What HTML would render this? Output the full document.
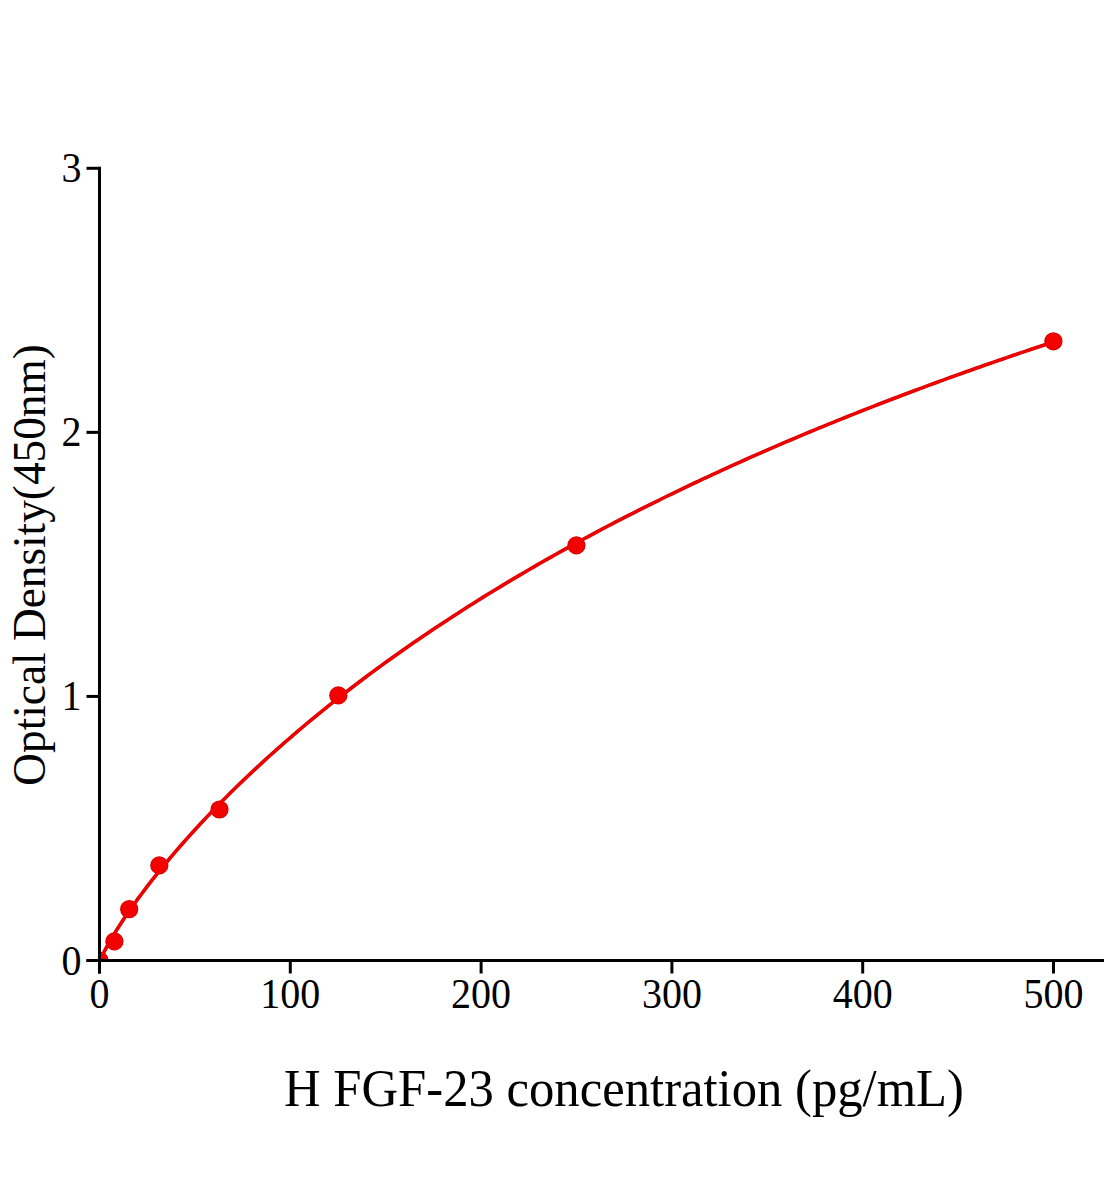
<!DOCTYPE html>
<html><head><meta charset="utf-8"><style>
html,body{margin:0;padding:0;background:#fff;}
body{width:1104px;height:1200px;overflow:hidden;}
svg{display:block;}
text{font-family:"Liberation Serif",serif;fill:#000;}
</style></head><body>
<svg width="1104" height="1200" viewBox="0 0 1104 1200">
<defs><clipPath id="c"><rect x="99.5" y="0" width="1004.5" height="960.5"/></clipPath></defs>
<g clip-path="url(#c)">
<polyline points="99.50,962.52 100.15,960.55 100.79,958.95 101.44,957.46 102.09,956.04 102.73,954.67 103.38,953.34 104.03,952.05 104.67,950.78 105.32,949.54 105.97,948.32 106.61,947.12 107.26,945.93 107.91,944.76 108.55,943.61 109.20,942.46 109.85,941.33 110.50,940.21 111.14,939.11 111.79,938.01 112.44,936.92 113.08,935.84 113.73,934.77 114.38,933.71 115.02,932.65 115.67,931.60 116.32,930.57 116.96,929.53 117.61,928.51 118.26,927.49 118.90,926.47 119.55,925.47 120.20,924.47 120.84,923.47 121.49,922.48 122.14,921.50 122.78,920.52 123.43,919.54 124.08,918.57 124.72,917.61 125.37,916.65 126.02,915.69 126.66,914.74 127.31,913.79 127.96,912.85 128.61,911.91 129.25,910.98 129.90,910.05 130.55,909.12 131.19,908.20 131.84,907.28 132.49,906.37 133.13,905.46 133.78,904.55 134.43,903.65 135.07,902.74 135.72,901.85 136.37,900.95 137.01,900.06 137.66,899.18 142.26,892.95 146.86,886.87 151.47,880.92 156.07,875.09 160.67,869.38 165.27,863.77 169.88,858.26 174.48,852.84 179.08,847.50 183.68,842.25 188.28,837.08 192.89,831.99 197.49,826.96 202.09,822.01 206.69,817.12 211.30,812.30 215.90,807.53 220.50,802.83 225.10,798.18 229.70,793.59 234.31,789.05 238.91,784.57 243.51,780.13 248.11,775.74 252.72,771.41 257.32,767.11 261.92,762.87 266.52,758.66 271.12,754.50 275.73,750.39 280.33,746.31 284.93,742.27 289.53,738.27 294.14,734.31 298.74,730.39 303.34,726.50 307.94,722.65 312.54,718.84 317.15,715.06 321.75,711.31 326.35,707.60 330.95,703.91 335.56,700.26 340.16,696.64 344.76,693.06 349.36,689.50 353.96,685.97 358.57,682.47 363.17,679.00 367.77,675.55 372.37,672.14 376.97,668.75 381.58,665.39 386.18,662.05 390.78,658.74 395.38,655.46 399.99,652.20 404.59,648.96 409.19,645.75 413.79,642.56 418.39,639.40 423.00,636.26 427.60,633.14 432.20,630.05 436.80,626.97 441.41,623.92 446.01,620.89 450.61,617.89 455.21,614.90 459.81,611.93 464.42,608.99 469.02,606.06 473.62,603.16 478.22,600.27 482.83,597.40 487.43,594.55 492.03,591.73 496.63,588.92 501.23,586.12 505.84,583.35 510.44,580.59 515.04,577.86 519.64,575.14 524.25,572.43 528.85,569.75 533.45,567.08 538.05,564.43 542.65,561.79 547.26,559.17 551.86,556.57 556.46,553.98 561.06,551.41 565.67,548.85 570.27,546.31 574.87,543.79 579.47,541.28 584.07,538.78 588.68,536.30 593.28,533.84 597.88,531.39 602.48,528.95 607.09,526.53 611.69,524.12 616.29,521.72 620.89,519.34 625.49,516.97 630.10,514.62 634.70,512.28 639.30,509.95 643.90,507.64 648.51,505.33 653.11,503.05 657.71,500.77 662.31,498.50 666.91,496.25 671.52,494.01 676.12,491.79 680.72,489.57 685.32,487.37 689.93,485.18 694.53,483.00 699.13,480.83 703.73,478.67 708.33,476.53 712.94,474.39 717.54,472.27 722.14,470.16 726.74,468.06 731.35,465.97 735.95,463.89 740.55,461.82 745.15,459.76 749.75,457.72 754.36,455.68 758.96,453.65 763.56,451.64 768.16,449.63 772.77,447.63 777.37,445.65 781.97,443.67 786.57,441.70 791.17,439.75 795.78,437.80 800.38,435.86 804.98,433.93 809.58,432.01 814.19,430.10 818.79,428.20 823.39,426.31 827.99,424.43 832.59,422.55 837.20,420.69 841.80,418.83 846.40,416.98 851.00,415.15 855.60,413.32 860.21,411.50 864.81,409.68 869.41,407.88 874.01,406.08 878.62,404.29 883.22,402.51 887.82,400.74 892.42,398.98 897.02,397.22 901.63,395.48 906.23,393.74 910.83,392.01 915.43,390.28 920.04,388.57 924.64,386.86 929.24,385.16 933.84,383.46 938.44,381.78 943.05,380.10 947.65,378.43 952.25,376.76 956.85,375.11 961.46,373.46 966.06,371.82 970.66,370.18 975.26,368.55 979.86,366.93 984.47,365.32 989.07,363.71 993.67,362.11 998.27,360.52 1002.88,358.93 1007.48,357.35 1012.08,355.78 1016.68,354.21 1021.28,352.65 1025.89,351.10 1030.49,349.55 1035.09,348.01 1039.69,346.47 1044.30,344.95 1048.90,343.42 1053.50,341.91" fill="none" stroke="#D00000" stroke-width="3.6" stroke-linejoin="round"/>
<circle cx="99.5" cy="960.5" r="9.1" fill="#D00000"/>
<circle cx="114.4" cy="941.4" r="9.1" fill="#D00000"/>
<circle cx="129.2" cy="909.2" r="9.1" fill="#D00000"/>
<circle cx="159.3" cy="865.4" r="9.1" fill="#D00000"/>
<circle cx="219.5" cy="809.5" r="9.1" fill="#D00000"/>
<circle cx="338.3" cy="695.4" r="9.1" fill="#D00000"/>
<circle cx="576.4" cy="545.4" r="9.1" fill="#D00000"/>
<circle cx="1053.4" cy="341.3" r="9.1" fill="#D00000"/>
<polyline points="99.50,962.52 100.15,960.55 100.79,958.95 101.44,957.46 102.09,956.04 102.73,954.67 103.38,953.34 104.03,952.05 104.67,950.78 105.32,949.54 105.97,948.32 106.61,947.12 107.26,945.93 107.91,944.76 108.55,943.61 109.20,942.46 109.85,941.33 110.50,940.21 111.14,939.11 111.79,938.01 112.44,936.92 113.08,935.84 113.73,934.77 114.38,933.71 115.02,932.65 115.67,931.60 116.32,930.57 116.96,929.53 117.61,928.51 118.26,927.49 118.90,926.47 119.55,925.47 120.20,924.47 120.84,923.47 121.49,922.48 122.14,921.50 122.78,920.52 123.43,919.54 124.08,918.57 124.72,917.61 125.37,916.65 126.02,915.69 126.66,914.74 127.31,913.79 127.96,912.85 128.61,911.91 129.25,910.98 129.90,910.05 130.55,909.12 131.19,908.20 131.84,907.28 132.49,906.37 133.13,905.46 133.78,904.55 134.43,903.65 135.07,902.74 135.72,901.85 136.37,900.95 137.01,900.06 137.66,899.18 142.26,892.95 146.86,886.87 151.47,880.92 156.07,875.09 160.67,869.38 165.27,863.77 169.88,858.26 174.48,852.84 179.08,847.50 183.68,842.25 188.28,837.08 192.89,831.99 197.49,826.96 202.09,822.01 206.69,817.12 211.30,812.30 215.90,807.53 220.50,802.83 225.10,798.18 229.70,793.59 234.31,789.05 238.91,784.57 243.51,780.13 248.11,775.74 252.72,771.41 257.32,767.11 261.92,762.87 266.52,758.66 271.12,754.50 275.73,750.39 280.33,746.31 284.93,742.27 289.53,738.27 294.14,734.31 298.74,730.39 303.34,726.50 307.94,722.65 312.54,718.84 317.15,715.06 321.75,711.31 326.35,707.60 330.95,703.91 335.56,700.26 340.16,696.64 344.76,693.06 349.36,689.50 353.96,685.97 358.57,682.47 363.17,679.00 367.77,675.55 372.37,672.14 376.97,668.75 381.58,665.39 386.18,662.05 390.78,658.74 395.38,655.46 399.99,652.20 404.59,648.96 409.19,645.75 413.79,642.56 418.39,639.40 423.00,636.26 427.60,633.14 432.20,630.05 436.80,626.97 441.41,623.92 446.01,620.89 450.61,617.89 455.21,614.90 459.81,611.93 464.42,608.99 469.02,606.06 473.62,603.16 478.22,600.27 482.83,597.40 487.43,594.55 492.03,591.73 496.63,588.92 501.23,586.12 505.84,583.35 510.44,580.59 515.04,577.86 519.64,575.14 524.25,572.43 528.85,569.75 533.45,567.08 538.05,564.43 542.65,561.79 547.26,559.17 551.86,556.57 556.46,553.98 561.06,551.41 565.67,548.85 570.27,546.31 574.87,543.79 579.47,541.28 584.07,538.78 588.68,536.30 593.28,533.84 597.88,531.39 602.48,528.95 607.09,526.53 611.69,524.12 616.29,521.72 620.89,519.34 625.49,516.97 630.10,514.62 634.70,512.28 639.30,509.95 643.90,507.64 648.51,505.33 653.11,503.05 657.71,500.77 662.31,498.50 666.91,496.25 671.52,494.01 676.12,491.79 680.72,489.57 685.32,487.37 689.93,485.18 694.53,483.00 699.13,480.83 703.73,478.67 708.33,476.53 712.94,474.39 717.54,472.27 722.14,470.16 726.74,468.06 731.35,465.97 735.95,463.89 740.55,461.82 745.15,459.76 749.75,457.72 754.36,455.68 758.96,453.65 763.56,451.64 768.16,449.63 772.77,447.63 777.37,445.65 781.97,443.67 786.57,441.70 791.17,439.75 795.78,437.80 800.38,435.86 804.98,433.93 809.58,432.01 814.19,430.10 818.79,428.20 823.39,426.31 827.99,424.43 832.59,422.55 837.20,420.69 841.80,418.83 846.40,416.98 851.00,415.15 855.60,413.32 860.21,411.50 864.81,409.68 869.41,407.88 874.01,406.08 878.62,404.29 883.22,402.51 887.82,400.74 892.42,398.98 897.02,397.22 901.63,395.48 906.23,393.74 910.83,392.01 915.43,390.28 920.04,388.57 924.64,386.86 929.24,385.16 933.84,383.46 938.44,381.78 943.05,380.10 947.65,378.43 952.25,376.76 956.85,375.11 961.46,373.46 966.06,371.82 970.66,370.18 975.26,368.55 979.86,366.93 984.47,365.32 989.07,363.71 993.67,362.11 998.27,360.52 1002.88,358.93 1007.48,357.35 1012.08,355.78 1016.68,354.21 1021.28,352.65 1025.89,351.10 1030.49,349.55 1035.09,348.01 1039.69,346.47 1044.30,344.95 1048.90,343.42 1053.50,341.91" fill="none" stroke="#F30000" stroke-width="2.4" stroke-linejoin="round"/>
<circle cx="99.5" cy="960.5" r="8.4" fill="#F30000"/>
<circle cx="114.4" cy="941.4" r="8.4" fill="#F30000"/>
<circle cx="129.2" cy="909.2" r="8.4" fill="#F30000"/>
<circle cx="159.3" cy="865.4" r="8.4" fill="#F30000"/>
<circle cx="219.5" cy="809.5" r="8.4" fill="#F30000"/>
<circle cx="338.3" cy="695.4" r="8.4" fill="#F30000"/>
<circle cx="576.4" cy="545.4" r="8.4" fill="#F30000"/>
<circle cx="1053.4" cy="341.3" r="8.4" fill="#F30000"/>
</g>
<g stroke="#000" stroke-width="3" fill="none">
<line x1="99.5" y1="166.8" x2="99.5" y2="973.5"/>
<line x1="86.5" y1="960.5" x2="1104" y2="960.5"/>
<line x1="99.50" y1="960.5" x2="99.50" y2="973.5"/><line x1="290.30" y1="960.5" x2="290.30" y2="973.5"/><line x1="481.10" y1="960.5" x2="481.10" y2="973.5"/><line x1="671.90" y1="960.5" x2="671.90" y2="973.5"/><line x1="862.70" y1="960.5" x2="862.70" y2="973.5"/><line x1="1053.50" y1="960.5" x2="1053.50" y2="973.5"/><line x1="86.5" y1="960.50" x2="99.5" y2="960.50"/><line x1="86.5" y1="696.43" x2="99.5" y2="696.43"/><line x1="86.5" y1="432.36" x2="99.5" y2="432.36"/><line x1="86.5" y1="168.29" x2="99.5" y2="168.29"/>
</g>
<g font-size="40"><text transform="translate(99.50,1008) scale(1,1.08)" text-anchor="middle">0</text><text transform="translate(290.30,1008) scale(1,1.08)" text-anchor="middle">100</text><text transform="translate(481.10,1008) scale(1,1.08)" text-anchor="middle">200</text><text transform="translate(671.90,1008) scale(1,1.08)" text-anchor="middle">300</text><text transform="translate(862.70,1008) scale(1,1.08)" text-anchor="middle">400</text><text transform="translate(1053.50,1008) scale(1,1.08)" text-anchor="middle">500</text><text transform="translate(81.5,974.50) scale(1,1.08)" text-anchor="end">0</text><text transform="translate(81.5,710.43) scale(1,1.08)" text-anchor="end">1</text><text transform="translate(81.5,446.36) scale(1,1.08)" text-anchor="end">2</text><text transform="translate(81.5,182.29) scale(1,1.08)" text-anchor="end">3</text></g>
<text transform="translate(284,1106) scale(1,1.025)" font-size="50.7">H FGF-23 concentration (pg/mL)</text>
<text transform="translate(45.2,785.7) rotate(-90) scale(1,1.025)" font-size="45.3">Optical Density(450nm)</text>
</svg>
</body></html>
